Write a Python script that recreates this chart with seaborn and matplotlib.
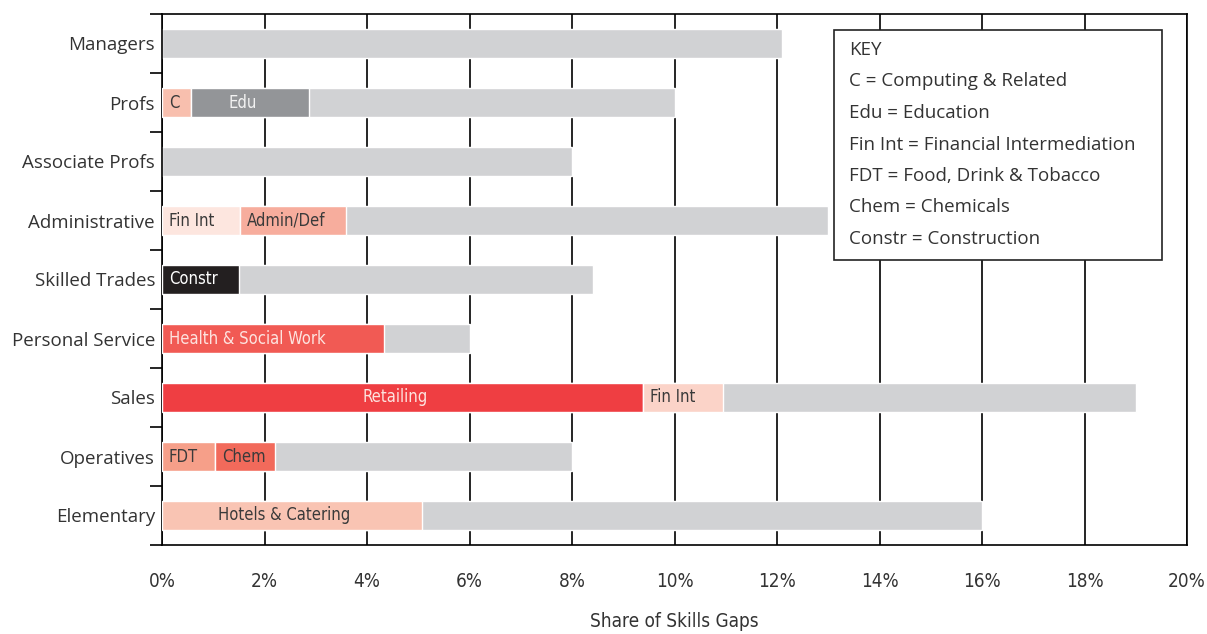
import matplotlib
matplotlib.use("Agg")
import matplotlib.pyplot as plt
from matplotlib import font_manager
from matplotlib.patches import Rectangle
from matplotlib.ticker import FuncFormatter, FixedLocator
import seaborn as sns

# occupation groups, top to bottom
occupations = ['Managers', 'Profs', 'Associate Profs', 'Administrative', 'Skilled Trades',
               'Personal Service', 'Sales', 'Operatives', 'Elementary']
# total share of skills gaps [%]
total_share = [12.1, 10.0, 8.0, 13.0, 8.4, 6.0, 19.0, 8.0, 16.0]

# highlighted sectors inside each bar (stacked from 0, in order)
segment_occupation = ['Profs', 'Profs', 'Administrative', 'Administrative', 'Skilled Trades',
                      'Personal Service', 'Sales', 'Sales', 'Operatives', 'Operatives', 'Elementary']
segment_label = ['C', 'Edu', 'Fin Int', 'Admin/Def', 'Constr', 'Health & Social Work',
                 'Retailing', 'Fin Int', 'FDT', 'Chem', 'Hotels & Catering']
segment_share = [0.57, 2.30, 1.52, 2.07, 1.50, 4.33, 9.38, 1.57, 1.03, 1.17, 5.07]

key_lines = ['KEY', 'C = Computing & Related', 'Edu = Education',
             'Fin Int = Financial Intermediation', 'FDT = Food, Drink & Tobacco',
             'Chem = Chemicals', 'Constr = Construction']

seg_colors = ['#f8bfae', '#939598', '#fde6df', '#f7ad9d', '#231f20', '#f15a54',
              '#ef3e42', '#fbd3c8', '#f69f89', '#f26a5b', '#f9c4b3']
seg_text_colors = ['#3a3a3a', '#f2f2f2', '#3a3a3a', '#3a3a3a', '#ffffff', '#fde3df',
                   '#fde3df', '#3a3a3a', '#3a3a3a', '#3a3a3a', '#3a3a3a']
seg_centered = ['Edu', 'Retailing', 'Hotels & Catering']

sns.set_theme(style='white')
plt.rcParams['font.family'] = ['Open Sans', 'DejaVu Sans']
txt = '#333333'

# pick a condensed face if one is around
fonts = font_manager.fontManager.ttflist
names = {f.name for f in fonts}
narrow_kw = {'family': ['Roboto', 'DejaVu Sans'], 'fontstretch': 'normal'}
narrow_scale = 0.9
if 'Liberation Sans Narrow' in names:
    narrow_kw = {'family': ['Liberation Sans Narrow'], 'fontstretch': 'normal'}
    narrow_scale = 1.0
elif any(f.name == 'DejaVu Sans' and f.stretch == 'condensed' for f in fonts):
    narrow_kw = {'family': ['DejaVu Sans'], 'fontstretch': 'condensed'}
    narrow_scale = 0.85
else:
    for f in fonts:
        if 'Condensed' in f.name or 'Narrow' in f.name:
            narrow_kw = {'family': [f.name], 'fontstretch': 'normal'}
            narrow_scale = 1.0
            break

fig = plt.figure(figsize=(12.07, 6.34), dpi=100)
ax = fig.add_axes([162 / 1207, 1 - 545 / 634, 1025 / 1207, 531 / 634])

sns.barplot(x=total_share, y=occupations, orient='h', color='#d1d2d4',
            saturation=1, width=0.5, ax=ax, zorder=2)

# stacked sector segments
pos = {o: i for i, o in enumerate(occupations)}
left = {o: 0.0 for o in occupations}
seg_fs = 14 * narrow_scale
for occ, lab, val, col, tcol in zip(segment_occupation, segment_label, segment_share,
                                    seg_colors, seg_text_colors):
    y = pos[occ]
    x0 = left[occ]
    ax.barh(y, val, left=x0, height=0.5, color=col, zorder=3)
    if lab in seg_centered:
        ax.text(x0 + val / 2 - 0.15, y, lab, ha='center', va='center', color=tcol,
                fontsize=seg_fs, zorder=4, **narrow_kw)
    else:
        ax.annotate(lab, (x0, y), xytext=(5, 0), textcoords='offset points',
                    ha='left', va='center', color=tcol, fontsize=seg_fs,
                    zorder=4, **narrow_kw)
    left[occ] = x0 + val

ax.set_xlim(0, 20)
ax.set_ylim(len(occupations) - 0.5, -0.5)
ax.set_xticks(range(0, 21, 2))
ax.xaxis.set_major_formatter(FuncFormatter(lambda v, p: f'{v:.0f}%'))
ax.grid(axis='x', color='black', lw=1.2, zorder=1)
ax.grid(axis='y', visible=False)
ax.set_axisbelow(True)

ax.tick_params(axis='x', direction='inout', length=13, width=1.2, color='black',
               pad=13, labelsize=16 * narrow_scale, labelcolor=txt)
for t in ax.get_xticklabels():
    t.set_family(narrow_kw['family'])
    t.set_fontstretch(narrow_kw['fontstretch'])
ax.tick_params(axis='y', which='major', length=0, pad=5, labelsize=13.5, labelcolor=txt)
ax.yaxis.set_minor_locator(FixedLocator([i - 0.5 for i in range(len(occupations) + 1)]))
ax.tick_params(axis='y', which='minor', left=True, direction='out', length=9,
               width=1.2, color='black')

for s in ax.spines.values():
    s.set_color('black')
    s.set_linewidth(1.2)
    s.set_visible(True)

ax.set_ylabel('')
ax.set_xlabel('Share of Skills Gaps', fontsize=16 * narrow_scale, color=txt,
              labelpad=15, **narrow_kw)

# key box
fig.add_artist(Rectangle((834 / 1207, 1 - 260 / 634), 328 / 1207, 230 / 634,
                         transform=fig.transFigure, facecolor='white',
                         edgecolor='#222222', lw=1.2, zorder=5))
for i, line in enumerate(key_lines):
    fig.text(849 / 1207, 1 - (50 + i * 31.5) / 634, line, ha='left', va='center',
             fontsize=13.5, color=txt, zorder=6)

fig.savefig('out.png', dpi=100)
